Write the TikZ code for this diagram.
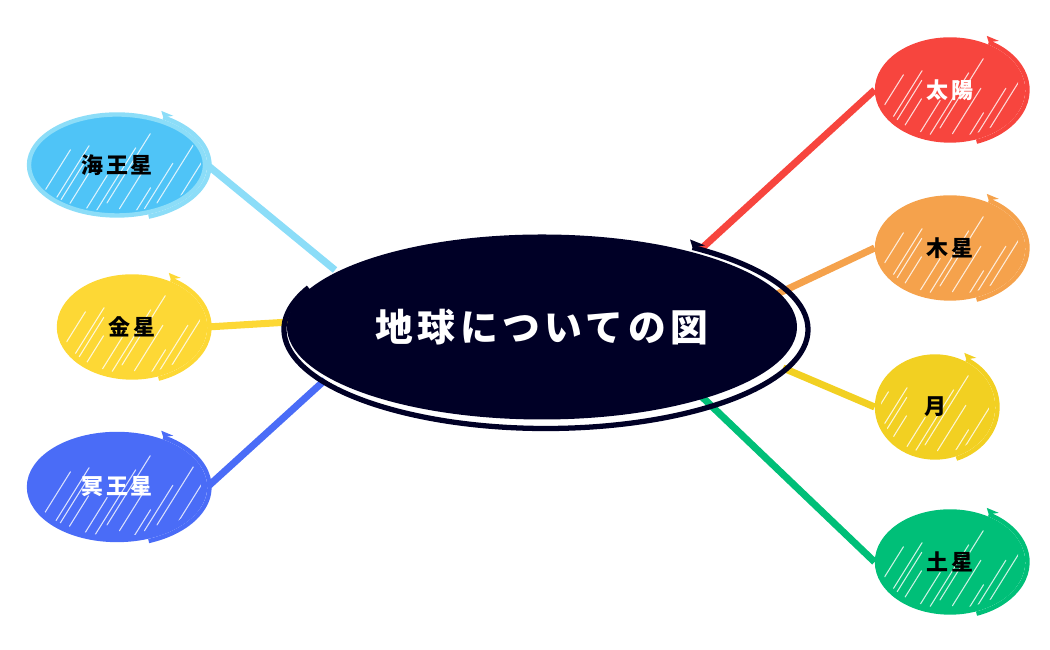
\documentclass[tikz,border=0pt]{standalone}
\usepackage{fontspec}
\newfontfamily\jp[LetterSpace=12]{Noto Sans CJK JP}
\usetikzlibrary{backgrounds,shapes.geometric}

\definecolor{navy}{RGB}{0,0,38}
\definecolor{skyfill}{RGB}{79,196,247}
\definecolor{skyline}{RGB}{140,221,248}
\definecolor{gold}{RGB}{253,216,53}
\definecolor{plutoblue}{RGB}{74,108,247}
\definecolor{sunred}{RGB}{247,69,62}
\definecolor{jupiter}{RGB}{245,162,76}
\definecolor{moonyellow}{RGB}{242,208,34}
\definecolor{saturn}{RGB}{0,191,120}

\begin{document}
\begin{tikzpicture}[
  planet/.style={ellipse, inner sep=0pt, font=\jp\bfseries\fontsize{12.5}{14}\selectfont},
  branch/.style={line width=4pt, draw=#1},
  hatch/.style={white, line width=0.6pt, opacity=0.8, line cap=round}
]
\useasboundingbox (0,0) rectangle (21,13);

% planet bodies: fill, sketchy strokes and outer loop
\foreach \cx/\cy/\rx/\ry/\fc/\col in {2.34/9.70/1.8/1.05/skyfill/skyline, 2.64/6.46/1.5/1.05/gold/gold,
  2.34/3.26/1.8/1.1/plutoblue/plutoblue, 19.0/11.2/1.5/1.05/sunred/sunred, 19.0/8.04/1.5/1.05/jupiter/jupiter,
  18.7/4.86/1.2/1.05/moonyellow/moonyellow, 19.0/1.76/1.5/1.05/saturn/saturn} {
  \filldraw[fill=\fc, draw=\col, line width=2.5pt] (\cx,\cy) ellipse ({\rx-0.04} and {\ry-0.04});
  \begin{scope}
    \clip (\cx,\cy) ellipse ({\rx-0.12} and {\ry-0.12});
    \foreach \d in {-1.1,-0.85,...,2.2}
      \draw[hatch] ({\cx+\d-0.6},{\cy-0.9-0.15*cos(\d*400)}) -- ++(58:{1.2+0.5*sin(\d*300)});
  \end{scope}
  \draw[\col, line width=2.5pt] (\cx,\cy) ++(60:{\rx+0.05} and {\ry+0.05})
    arc[start angle=60, end angle=-70, x radius={\rx+0.05}, y radius={\ry+0.05}];
  \fill[\col] (\cx,\cy) ++(60:{\rx+0.05} and {\ry+0.05}) -- ++(-0.04,0.13) -- ++(0.24,-0.1) -- cycle;
}

% centre
\node[ellipse, fill=navy, minimum width=10.2cm, minimum height=3.7cm, inner sep=0pt,
  text=white, font=\jp\bfseries\fontsize{21.5}{24}\selectfont] (chikyu) at (10.84, 6.46) {地球についての図};
\draw[navy, line width=3pt] ([shift={(0.08,-0.05)}]chikyu.center) ++(56:5.24cm and 1.98cm)
  arc[start angle=56, end angle=-205, x radius=5.24cm, y radius=1.98cm];
\fill[navy] ([shift={(0.08,-0.05)}]chikyu.center) ++(56:5.24cm and 1.98cm) -- ++(-0.05,0.16) -- ++(0.3,-0.12) -- cycle;

% planets
\node[planet, minimum width=3.6cm, minimum height=2.1cm] (kaiou) at (2.34, 9.70) {海王星};
\node[planet, minimum width=3.0cm, minimum height=2.1cm] (kinsei) at (2.64, 6.46) {金星};
\node[planet, minimum width=3.6cm, minimum height=2.2cm, text=white] (meiou) at (2.34, 3.26) {冥王星};
\node[planet, minimum width=3.0cm, minimum height=2.1cm, text=white] (taiyo) at (19.0, 11.2) {太陽};
\node[planet, minimum width=3.0cm, minimum height=2.1cm] (mokusei) at (19.0, 8.04) {木星};
\node[planet, minimum width=2.4cm, minimum height=2.1cm] (tsuki) at (18.7, 4.86) {月};
\node[planet, minimum width=3.0cm, minimum height=2.1cm] (dosei) at (19.0, 1.76) {土星};

% where the branches meet the centre
\coordinate (c-kaiou) at (6.7, 7.6);
\coordinate (c-kinsei) at (5.8, 6.56);
\coordinate (c-meiou) at (6.5, 5.4);
\coordinate (c-taiyo) at (14.0, 8.0);
\coordinate (c-mokusei) at (15.5, 7.1);
\coordinate (c-tsuki) at (15.66, 5.64);
\coordinate (c-dosei) at (14.0, 5.1);

\begin{pgfonlayer}{background}
\draw[branch=skyline] (kaiou.east) -- (c-kaiou);
\draw[branch=gold] (kinsei.east) -- (c-kinsei);
\draw[branch=plutoblue] (meiou.east) -- (c-meiou);
\draw[branch=sunred] (taiyo.west) -- (c-taiyo);
\draw[branch=jupiter] (mokusei.west) -- (c-mokusei);
\draw[branch=moonyellow] (tsuki.west) -- (c-tsuki);
\draw[branch=saturn] (dosei.west) -- (c-dosei);
\end{pgfonlayer}

\end{tikzpicture}
\end{document}
